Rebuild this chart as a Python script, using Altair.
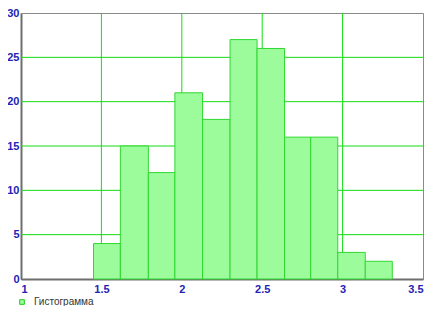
import altair as alt
import pandas as pd

counts = [4, 15, 12, 21, 18, 27, 26, 16, 16, 3, 2]
bin_edges = [1.451, 1.618, 1.792, 1.957, 2.129, 2.300, 2.468, 2.639, 2.802, 2.970, 3.141, 3.309]
x_ticks = [1, 1.5, 2, 2.5, 3, 3.5]
y_ticks = [0, 5, 10, 15, 20, 25, 30]
x_grid = [1.5, 2, 2.5, 3]
y_grid = [5, 10, 15, 20, 25]
series_name = "Гистограмма"

df = pd.DataFrame({
    "start": bin_edges[:-1],
    "end": bin_edges[1:],
    "count": counts,
    "base": [0] * len(counts),
    "series": [series_name] * len(counts),
})
vgrid = pd.DataFrame({"gx": x_grid})
hgrid = pd.DataFrame({"gy": y_grid})

label_font = "Liberation Sans"
label_color = "#2323b4"
grid_green = "#10dd10"

x_scale = alt.Scale(domain=[1, 3.5], nice=False, zero=False, padding=0)
y_scale = alt.Scale(domain=[0, 30], nice=False, padding=0)

x_axis = alt.Axis(values=x_ticks, title=None, grid=False, ticks=False,
                  format="~g",
                  labelFont=label_font, labelFontSize=11, labelFontWeight="bold",
                  labelColor=label_color, labelPadding=4,
                  labelFlush=True, labelOverlap=False,
                  domainColor="#6e6e6e", domainWidth=2)
y_axis = alt.Axis(values=y_ticks, title=None, grid=False, ticks=False,
                  labelFont=label_font, labelFontSize=11, labelFontWeight="bold",
                  labelColor=label_color, labelPadding=2,
                  labelOverlap=False, labelFlush=False,
                  domainColor="#6e6e6e", domainWidth=2)

vlines = alt.Chart(vgrid).mark_rule(color=grid_green, strokeWidth=1).encode(
    x=alt.X("gx:Q", scale=x_scale, axis=x_axis)
)
hlines = alt.Chart(hgrid).mark_rule(color=grid_green, strokeWidth=1).encode(
    y=alt.Y("gy:Q", scale=y_scale, axis=y_axis)
)

bars = alt.Chart(df).mark_rect(
    stroke="#2fd82f", strokeWidth=1, opacity=1
).encode(
    x=alt.X("start:Q", scale=x_scale, axis=x_axis),
    x2="end:Q",
    y=alt.Y("count:Q", scale=y_scale, axis=y_axis),
    y2="base:Q",
    fill=alt.Fill("series:N",
                  scale=alt.Scale(domain=[series_name], range=["#9cfc9c"]),
                  legend=alt.Legend(title=None, orient="none", legendX=-4, legendY=284,
                                    symbolType="square", symbolSize=22,
                                    symbolStrokeColor="#22cc22", symbolStrokeWidth=1,
                                    labelFont=label_font, labelFontSize=10,
                                    labelColor="#333333", labelOffset=7)),
)

chart = alt.layer(vlines, hlines, bars).properties(
    width=402,
    height=266,
    padding={"left": 13, "top": 5, "right": 2, "bottom": 27},
    autosize=alt.AutoSizeParams(type="none"),
).configure_view(
    stroke="#8a8a8a", strokeWidth=1
)

chart.save("out.html", embed_options={"renderer": "svg", "actions": False})
